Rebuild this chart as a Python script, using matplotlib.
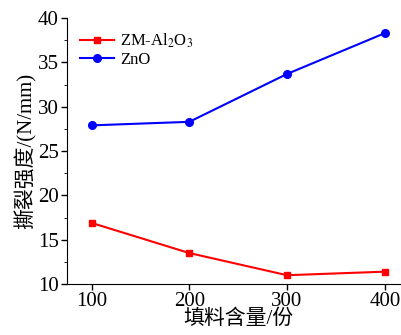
import matplotlib.pyplot as plt
from matplotlib.ticker import MultipleLocator

plt.rcParams['font.family'] = ['Liberation Serif', 'Noto Sans CJK SC']
plt.rcParams['mathtext.fontset'] = 'stix'

content = [100, 200, 300, 400]
zm_al2o3 = [16.9, 13.5, 11.0, 11.4]
zno = [27.9, 28.3, 33.7, 38.3]

fig = plt.figure(figsize=(4.02, 3.35), dpi=100)
ax = fig.add_axes([0.167, 0.152, 0.851, 0.794])

ax.plot(content, zm_al2o3, color='red', marker='s', markersize=5, lw=1.5,
        label=r'ZM-Al$_2$O$_3$')
ax.plot(content, zno, color='blue', marker='o', markersize=5.5, lw=1.5,
        label='ZnO')

ax.set_xlim(75, 425)
ax.set_ylim(10, 40)
ax.set_xticks(content)
ax.yaxis.set_major_locator(MultipleLocator(5))
ax.yaxis.set_minor_locator(MultipleLocator(2.5))
ax.spines['top'].set_visible(False)
ax.spines['right'].set_visible(False)
ax.tick_params(labelsize=15, width=1, length=4, pad=2)
ax.tick_params(which='minor', length=2.5)

ax.set_xlabel('填料含量/份', fontsize=15, labelpad=-1)
ax.set_ylabel('撕裂强度/(N/mm)', fontsize=15, labelpad=1)

ax.legend(loc='upper left', frameon=False, fontsize=12, handlelength=2,
          borderaxespad=0.4, handletextpad=0.4, labelspacing=0.15)

fig.savefig('out.png', dpi=100)
